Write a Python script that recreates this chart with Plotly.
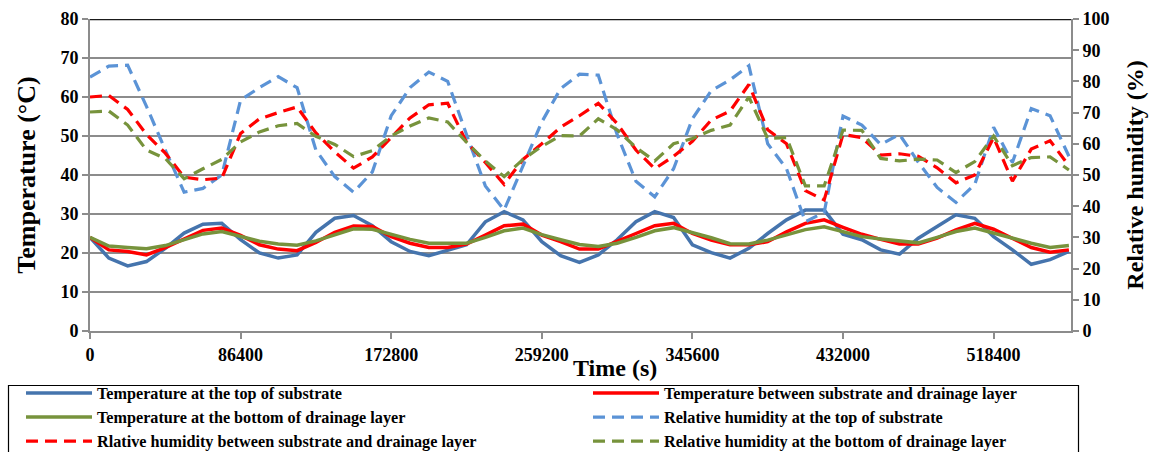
import plotly.graph_objects as go

# Time axis: one reading every 3 hours over 6.5 days
time_s = [k * 10800 for k in range(53)]

# Temperatures (°C)
temp_top = [24.0, 18.7, 16.7, 17.8, 21.2, 25.1, 27.4, 27.6, 23.4, 20.0, 18.7, 19.5, 25.3,
            28.9, 29.6, 27.0, 22.9, 20.4, 19.3, 20.8, 22.1, 28.0, 30.6, 28.5, 22.9, 19.3,
            17.6, 19.5, 23.4, 28.0, 30.6, 29.1, 22.1, 20.1, 18.7, 21.2, 25.0, 28.5, 31.0,
            31.0, 24.8, 23.4, 20.8, 19.7, 23.8, 26.8, 29.8, 28.9, 24.2, 20.8, 17.1, 18.3, 20.4]
temp_mid = [24.0, 20.8, 20.4, 19.5, 21.4, 23.5, 25.8, 26.4, 24.5, 22.1, 21.0, 20.6, 22.7,
            25.3, 26.9, 26.8, 24.2, 22.5, 21.4, 21.4, 22.3, 24.6, 27.0, 27.4, 24.6, 22.9,
            21.0, 21.0, 22.9, 25.0, 27.0, 27.6, 25.0, 23.3, 22.1, 22.1, 22.9, 25.4, 27.6,
            28.5, 26.6, 24.8, 23.5, 22.3, 22.3, 23.8, 25.9, 27.6, 26.1, 23.8, 21.4, 20.2, 20.8]
temp_bot = [24.0, 21.8, 21.4, 21.1, 21.9, 23.3, 24.9, 25.5, 24.2, 23.0, 22.3, 22.0, 23.1,
            24.7, 26.2, 26.1, 24.7, 23.5, 22.5, 22.5, 22.5, 24.0, 25.7, 26.4, 24.7, 23.4,
            22.2, 21.7, 22.5, 24.0, 25.7, 26.5, 25.3, 23.9, 22.4, 22.3, 23.3, 24.7, 26.0,
            26.7, 25.5, 24.2, 23.6, 23.0, 22.6, 24.0, 25.5, 26.4, 25.1, 23.6, 22.5, 21.4, 21.9]

# Relative humidity (%)
rh_top = [81.4, 84.9, 85.2, 72.0, 58.0, 44.5, 45.7, 50.0, 74.0, 78.0, 81.5, 78.0, 58.0,
          49.5, 44.5, 51.0, 69.0, 78.0, 83.0, 80.0, 63.0, 46.5, 38.8, 53.0, 67.0, 77.7,
          82.3, 82.0, 63.0, 48.0, 43.0, 52.0, 68.0, 77.0, 80.5, 85.0, 60.0, 52.0, 35.0,
          38.0, 68.9, 66.0, 59.8, 63.0, 54.1, 46.0, 41.2, 47.0, 65.3, 54.0, 71.3, 69.0, 56.0]
rh_mid = [75.0, 75.5, 71.0, 63.0, 57.0, 49.3, 48.5, 49.0, 63.3, 68.0, 70.0, 71.8, 63.5,
          57.4, 52.2, 55.8, 62.0, 68.3, 72.5, 73.0, 60.5, 54.0, 47.0, 55.0, 60.0, 65.3,
          69.0, 73.0, 66.5, 58.0, 52.0, 56.0, 60.8, 67.6, 70.5, 79.0, 64.5, 60.0, 45.0,
          42.0, 63.0, 62.0, 56.4, 56.8, 56.0, 52.3, 47.5, 50.0, 62.0, 48.0, 58.3, 61.0, 53.0]
rh_bot = [70.2, 70.5, 66.0, 58.0, 55.3, 48.8, 52.0, 55.0, 60.6, 63.8, 65.8, 66.5, 62.4,
          59.8, 55.9, 57.8, 62.5, 65.7, 68.3, 67.0, 60.5, 54.5, 49.5, 55.0, 59.2, 62.6,
          62.5, 68.0, 64.5, 58.8, 54.5, 60.0, 61.7, 64.3, 66.0, 75.0, 61.7, 62.0, 46.5,
          46.5, 64.4, 64.3, 55.3, 54.5, 55.1, 54.8, 50.8, 54.3, 62.5, 53.0, 55.6, 55.8, 51.6]

x_ticks = [0, 86400, 172800, 259200, 345600, 432000, 518400]

BLUE_T = "#4574ad"
BLUE_RH = "#5b93d6"
RED = "#ff0000"
GREEN = "#77933c"
GRID = "#8c8c8c"
FONT = "Liberation Serif"
DASH = "12px,7px"

# (name, values, colour, axis, dashed, legend column, rank in column)
series = [
    ("Relative humidity at the top of substrate", rh_top, BLUE_RH, "y2", True, "legend2", 2),
    ("Rlative humidity between substrate and drainage layer", rh_mid, RED, "y2", True, "legend", 3),
    ("Relative humidity at the bottom of drainage layer", rh_bot, GREEN, "y2", True, "legend2", 3),
    ("Temperature at the top of substrate", temp_top, BLUE_T, "y", False, "legend", 1),
    ("Temperature between substrate and drainage layer", temp_mid, RED, "y", False, "legend2", 1),
    ("Temperature at the bottom of drainage layer", temp_bot, GREEN, "y", False, "legend", 2),
]

fig = go.Figure()
for name, vals, col, ax, dashed, leg, rank in series:
    line = dict(color=col, width=3.2, dash=DASH) if dashed else dict(color=col, width=3.5)
    fig.add_trace(go.Scatter(x=time_s, y=vals, name=name, mode="lines", yaxis=ax,
                             line=line, legend=leg, legendrank=rank))

tick_font = dict(family=FONT, size=18, color="black", weight="bold")
legend_font = dict(family=FONT, size=16.2, color="black", weight="bold")

# Plot area in pixels: x 90..1071, y 19..331
PW, PH, PB = 981.0, 312.0, 331.0


def px_x(px):
    return (px - 90) / PW


def px_y(py):
    return -(py - PB) / PH


legend_common = dict(orientation="v", xanchor="left", yanchor="top", itemwidth=66,
                     traceorder="normal", borderwidth=0, bgcolor="rgba(0,0,0,0)",
                     font=legend_font, itemclick=False, itemdoubleclick=False)

fig.update_layout(
    width=1158, height=452,
    margin=dict(l=90, r=87, t=19, b=121, autoexpand=False),
    paper_bgcolor="white", plot_bgcolor="white",
    showlegend=True,
    legend=dict(x=px_x(21), y=px_y(376), **legend_common),
    legend2=dict(x=px_x(588), y=px_y(376), **legend_common),
    xaxis=dict(
        range=[0, 562800], tickvals=x_ticks, ticktext=[str(v) for v in x_ticks],
        showgrid=False, zeroline=False, showline=True, linecolor=GRID, linewidth=2,
        ticks="outside", ticklen=6, tickwidth=2, tickcolor=GRID,
        tickfont=tick_font,
    ),
    yaxis=dict(
        range=[0, 80], dtick=10, showgrid=True, gridcolor=GRID, gridwidth=2,
        zeroline=False, showline=True, linecolor=GRID, linewidth=2,
        ticks="outside", ticklen=6, tickwidth=2, tickcolor=GRID,
        tickfont=tick_font,
        title=dict(text="Temperature (°C)", font=dict(family=FONT, size=26, color="black",
                                                      weight="bold"), standoff=17),
    ),
    yaxis2=dict(
        range=[0, 100], dtick=10, overlaying="y", side="right", showgrid=False,
        zeroline=False, showline=True, linecolor=GRID, linewidth=2,
        ticks="outside", ticklen=6, tickwidth=2, tickcolor=GRID,
        tickfont=tick_font,
        title=dict(text="Relative humidity (%)", font=dict(family=FONT, size=24, color="black",
                                                           weight="bold"), standoff=18),
    ),
    annotations=[
        dict(text="Time (s)", xref="paper", yref="paper", x=px_x(615), y=px_y(368),
             xanchor="center", yanchor="middle", showarrow=False,
             font=dict(family=FONT, size=24, color="black", weight="bold")),
    ],
    shapes=[
        # dark top border of the plot area
        dict(type="line", xref="paper", yref="y", x0=0, x1=1, y0=80, y1=80,
             line=dict(color="#1a1a1a", width=2.5), layer="above"),
        # frame around the two legend columns
        dict(type="rect", xref="paper", yref="paper", x0=px_x(8.5), x1=px_x(1078.5),
             y0=px_y(385.5), y1=px_y(470), line=dict(color="black", width=1.2),
             fillcolor="rgba(0,0,0,0)", layer="below"),
    ],
)

fig.write_html("out.html")
